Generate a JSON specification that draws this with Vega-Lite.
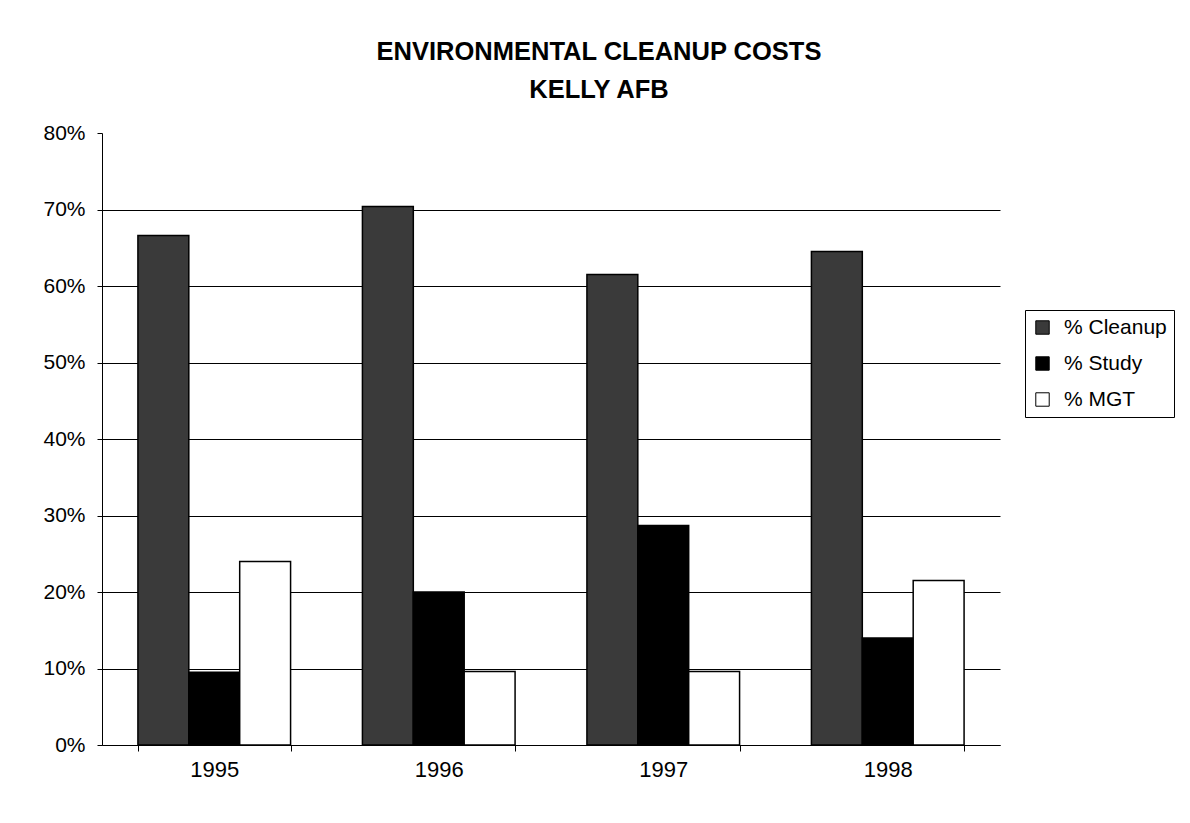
{
  "$schema": "https://vega.github.io/schema/vega-lite/v6.json",
  "autosize": "none",
  "width": 898,
  "height": 612,
  "padding": {"left": 102, "top": 133, "right": 190, "bottom": 78},
  "background": "white",
  "title": {
    "text": ["ENVIRONMENTAL CLEANUP COSTS", "KELLY AFB"],
    "font": "Liberation Sans",
    "fontSize": 25.5,
    "fontWeight": "bold",
    "color": "black",
    "anchor": "middle",
    "dx": 48,
    "lineHeight": 38,
    "offset": 19
  },
  "config": {
    "view": {"stroke": null},
    "font": "Liberation Sans"
  },
  "data": {
    "values": [
      {"year": "1995", "series": "% Cleanup", "value": 0.666},
      {"year": "1995", "series": "% Study", "value": 0.095},
      {"year": "1995", "series": "% MGT", "value": 0.240},
      {"year": "1996", "series": "% Cleanup", "value": 0.704},
      {"year": "1996", "series": "% Study", "value": 0.200},
      {"year": "1996", "series": "% MGT", "value": 0.096},
      {"year": "1997", "series": "% Cleanup", "value": 0.615},
      {"year": "1997", "series": "% Study", "value": 0.287},
      {"year": "1997", "series": "% MGT", "value": 0.096},
      {"year": "1998", "series": "% Cleanup", "value": 0.645},
      {"year": "1998", "series": "% Study", "value": 0.140},
      {"year": "1998", "series": "% MGT", "value": 0.215}
    ]
  },
  "mark": {"type": "bar", "stroke": "black", "strokeWidth": 1.5},
  "encoding": {
    "x": {
      "field": "year",
      "type": "nominal",
      "scale": {"paddingInner": 0.32, "paddingOuter": 0.16},
      "axis": {
        "title": null,
        "labelAngle": 0,
        "labelFontSize": 22,
        "labelColor": "black",
        "labelPadding": 8,
        "domainColor": "black",
        "domainWidth": 1,
        "tickColor": "black",
        "tickSize": 6,
        "tickBand": "extent",
        "grid": false
      }
    },
    "xOffset": {
      "field": "series",
      "type": "nominal",
      "sort": ["% Cleanup", "% Study", "% MGT"],
      "scale": {"paddingInner": 0, "paddingOuter": 0}
    },
    "y": {
      "field": "value",
      "type": "quantitative",
      "scale": {"domain": [0, 0.8], "nice": false},
      "axis": {
        "title": null,
        "format": ".0%",
        "values": [0, 0.1, 0.2, 0.3, 0.4, 0.5, 0.6, 0.7, 0.8],
        "labelFontSize": 21,
        "labelColor": "black",
        "labelPadding": 12,
        "domainColor": "black",
        "domainWidth": 1,
        "tickColor": "black",
        "tickSize": 5,
        "grid": true,
        "gridColor": "black",
        "gridWidth": 1,
        "gridOpacity": {"condition": {"test": "datum.value >= 0.79", "value": 0}, "value": 1}
      }
    },
    "fill": {
      "field": "series",
      "type": "nominal",
      "sort": ["% Cleanup", "% Study", "% MGT"],
      "scale": {"domain": ["% Cleanup", "% Study", "% MGT"], "range": ["#3a3a3a", "#000000", "#ffffff"]},
      "legend": {
        "title": null,
        "orient": "none",
        "legendX": 923,
        "legendY": 177,
        "padding": 7,
        "strokeColor": "black",
        "fillColor": "white",
        "symbolType": "square",
        "symbolSize": 180,
        "symbolStrokeColor": "black",
        "symbolStrokeWidth": 1,
        "symbolOpacity": 1,
        "labelFontSize": 21,
        "labelColor": "black",
        "labelOffset": 11,
        "rowPadding": 14,
        "labelLimit": 300
      }
    }
  }
}
